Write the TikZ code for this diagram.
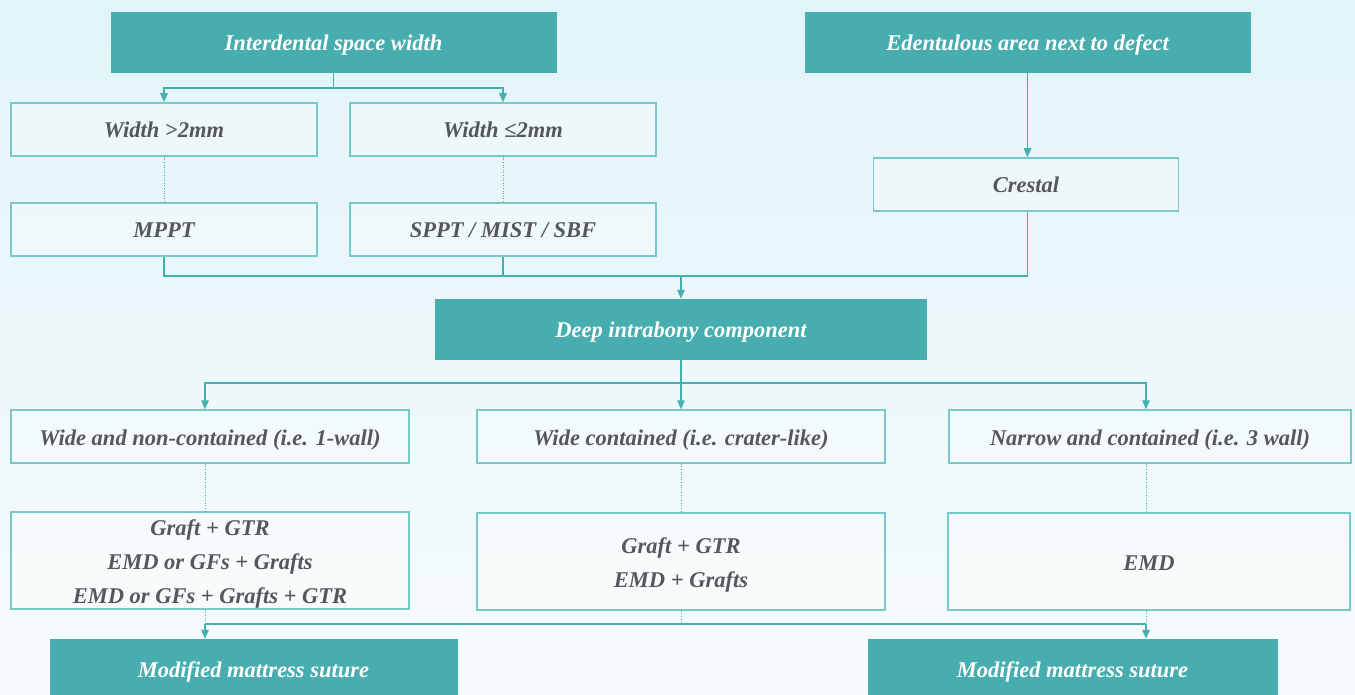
\documentclass[tikz,border=0pt]{standalone}
\usepackage{fontspec}
\setmainfont{Liberation Serif}
\usetikzlibrary{arrows.meta}
\definecolor{tealbox}{HTML}{47ADAE}
\definecolor{tealline}{HTML}{45B0B0}
\definecolor{tealedge}{HTML}{78C9C9}
\definecolor{textgray}{HTML}{55575A}
\definecolor{bgtop}{HTML}{E2F4F8}
\definecolor{bgbottom}{HTML}{F7FBFD}

\tikzset{
	head/.style={fill=tealbox, draw=tealbox, text=white, inner sep=0pt,
		minimum height=60pt, text height=19pt, text depth=2pt,
		font=\fontsize{22.5}{26}\selectfont\bfseries\itshape},
	frame/.style={draw=tealedge, fill=white, fill opacity=0.3, text opacity=1,
		text=textgray, line width=1.5pt, inner sep=0pt},
	pick/.style={frame, minimum height=53pt, text height=19pt, text depth=2pt,
		font=\fontsize{22.5}{26}\selectfont\bfseries\itshape},
	cure/.style={frame, minimum height=97pt, align=center,
		text height=#1, text depth=2pt,
		font=\fontsize{22.5}{34}\selectfont\bfseries\itshape},
	cure/.default=19pt,
	link/.style={draw=tealline, line width=1.4pt},
	tip/.style={-{Triangle[length=9pt, width=7.5pt]}},
	dots/.style={draw=tealline, line width=0.9pt, dash pattern=on 1pt off 1.6pt}
}

\begin{document}
\begin{tikzpicture}[x=1pt, y=-1pt]
	\shade[top color=bgtop, bottom color=bgbottom] (0,0) rectangle (1355,695);
	\useasboundingbox (0,0) rectangle (1355,695);

	% top row
	\node[head, minimum width=445pt] (isw) at (333.5,42) {Interdental space width};
	\node[head, minimum width=445pt] (eda) at (1027.5,42) {Edentulous area next to defect};

	% interdental branch
	\node[pick, minimum width=306pt] (wa) at (164,129.5) {Width >2mm};
	\node[pick, minimum width=306pt] (wb) at (503,129.5) {Width ≤2mm};
	\node[pick, minimum width=306pt] (mppt) at (164,229.5) {MPPT};
	\node[pick, minimum width=306pt] (sppt) at (503,229.5) {SPPT / MIST / SBF};
	\node[pick, minimum width=305pt] (cre) at (1026,184.5) {Crestal};

	% intrabony
	\node[head, minimum width=491pt] (dic) at (681,329) {Deep intrabony component};
	\node[pick, minimum width=398pt] (ca) at (210,436.5) {Wide and non-contained (i.e. 1-wall)};
	\node[pick, minimum width=408pt] (cb) at (681,436.5) {Wide contained (i.e. crater-like)};
	\node[pick, minimum width=402pt] (cc) at (1150,436.5) {Narrow and contained (i.e. 3 wall)};
	\node[cure=87pt, minimum width=398pt] (ta) at (210,560.5) {Graft + GTR\\EMD or GFs + Grafts\\EMD or GFs + Grafts + GTR};
	\node[cure=53pt, minimum width=408pt] (tb) at (681,561.5) {Graft + GTR\\EMD + Grafts};
	\node[cure, minimum width=402pt] (tc) at (1149,561.5) {EMD};

	% sutures
	\node[head, minimum width=407pt] (sa) at (253.5,669) {Modified mattress suture};
	\node[head, minimum width=409pt] (sb) at (1072.5,669) {Modified mattress suture};

	% stems under the three defect columns
	\coordinate (xa) at (205,0);
	\coordinate (xc) at (1146,0);

	% connectors
	\draw[link, tip] (isw.south) -- ++(0,16) -| (wa.north);
	\draw[link, tip] (isw.south) -- ++(0,16) -| (wb.north);
	\draw[link, tip] (eda.south) -- (eda.south |- cre.north);
	\draw[dots] (wa.south) -- (mppt.north);
	\draw[dots] (wb.south) -- (sppt.north);

	\coordinate (jt) at (681,276);
	\draw[link] (mppt.south) |- (jt);
	\draw[link] (sppt.south) |- (jt);
	\draw[link] (eda.south |- cre.south) |- (jt);
	\draw[link, tip] (jt) -- (dic.north);

	\coordinate (jm) at (681,383);
	\draw[link] (dic.south) -- (jm);
	\draw[link, tip] (jm) -| (xa |- ca.north);
	\draw[link, tip] (jm) -| (xc |- cc.north);
	\draw[link, tip] (jm) -- (cb.north);
	\draw[dots] (xa |- ca.south) -- (xa |- ta.north);
	\draw[dots] (cb.south) -- (tb.north);
	\draw[dots] (xc |- cc.south) -- (xc |- tc.north);

	\coordinate (jb) at (681,624);
	\draw[dots] (xa |- ta.south) -- (xa |- jb);
	\draw[dots] (tb.south) -- (jb);
	\draw[dots] (xc |- tc.south) -- (xc |- jb);
	\draw[link] (xa |- jb) -- (xc |- jb);
	\draw[link, tip] (xa |- jb) -- (xa |- sa.north);
	\draw[link, tip] (xc |- jb) -- (xc |- sb.north);
\end{tikzpicture}
\end{document}
